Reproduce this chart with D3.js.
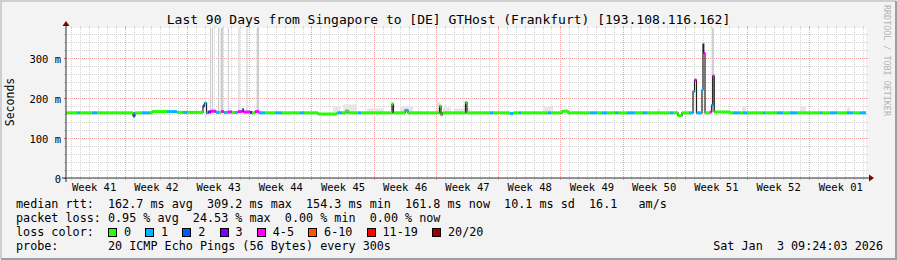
<!DOCTYPE html>
<html>
<head>
<meta charset="utf-8">
<script src="https://cdnjs.cloudflare.com/ajax/libs/d3/7.8.5/d3.min.js"></script>
<style>
html, body { margin: 0; padding: 0; background: #f3f3f3; }
svg { display: block; }
text { font-family: "DejaVu Sans Mono", monospace; }
</style>
</head>
<body>
<script>
// time window of the graph (UTC)
var startTime = new Date(Date.UTC(2025, 9, 5, 9, 24, 3));
var endTime = new Date(Date.UTC(2026, 0, 3, 9, 24, 3));

// median rtt as runs: start (days after startTime), median (ms), loss bucket (null = no band)
var runDay = [0, 1.24, 1.58, 2.93, 3.49, 7.54, 7.76, 8.55, 9.45, 9.68,
  11.36, 12.49, 13.16, 13.61, 15.41, 15.58, 15.81, 15.98, 16.31, 16.88,
  17.21, 17.44, 17.78, 18.23, 18.68, 19.01, 19.35, 19.86, 19.97, 20.7,
  20.93, 21.26, 21.71, 22.39, 23.51, 24.3, 26.33, 26.78, 28.35, 30.49,
  30.6, 31.05, 31.5, 31.73, 32.85, 33.19, 36.68, 36.84, 38.14, 38.48,
  42.02, 42.19, 42.36, 44.94, 45.11, 47.7, 48.04, 49.95, 50.29, 50.96,
  51.19, 54.23, 54.56, 55.8, 56.48, 58.95, 59.74, 60.3, 60.86, 61.76,
  62.1, 63.11, 64.01, 64.91, 65.36, 67.95, 68.29, 68.85, 69.3, 70.09,
  70.54, 70.71, 70.93, 71.55, 71.66, 71.75, 71.89, 72.45, 72.64, 72.75,
  72.93, 74.7, 75.04, 75.83, 76.16, 76.61, 78.41, 78.64, 79.99, 80.66,
  81.45, 82.24, 84.83, 85.05, 85.95, 86.74, 87.86, 88.54, 89.33];
var runMs = [163, 163, 163, 163, 163, 155, 163, 163, 163, 166,
  166, 164, 164, 164, 180, 187, 163, 165, 167, 164,
  164, 166, 164, 165, 164, 164, 166, 172, 165, 164,
  163, 166, 163, 163, 163, 163, 163, 163, 160, 163,
  163, 163, 168, 163, 163, 163, 185, 163, 169, 163,
  180, 158, 163, 189, 163, 163, 163, 161, 163, 163,
  163, 163, 163, 167, 163, 163, 163, 163, 163, 163,
  163, 163, 163, 163, 163, 163, 163, 156, 163, 163,
  216, 245, 163, 220, 335, 312, 163, 165, 182, 255,
  165, 163, 163, 163, 163, 163, 163, 163, 163, 163,
  163, 163, 163, 163, 163, 163, 163, 163, 163];
var runLoss = [0, 1, 0, 1, 0, 2, 0, 1, 0, 0,
  1, 0, 1, 0, 3, 1, 1, 3, 4, 1,
  0, 4, 1, 4, 0, 1, 4, 1, 4, 3,
  0, 4, 1, 0, 1, 0, 1, 0, 0, 0,
  1, 0, 0, 0, 1, 0, 0, 0, 1, 0,
  0, 0, 0, 0, 0, 1, 0, 1, 0, 1,
  0, 1, 0, 0, 0, 1, 0, 1, 0, 1,
  0, 1, 0, 1, 0, 1, 0, 0, 0, 1,
  1, 4, 1, 1, null, 4, 0, 4, 1, 4,
  0, 0, 1, 0, 1, 0, 1, 0, 1, 0,
  1, 0, 1, 0, 1, 0, 1, 0, 1];

// light smoke patches above the median: from day, to day, top (ms)
var smokeFrom = [30.04, 31.2, 33.86, 37.58, 41.74, 42.41, 43.6, 53.66, 66.49, 76.05, 82.58, 87.86];
var smokeTo = [30.9, 32.74, 35.66, 39.04, 42.08, 43.3, 45.45, 54.79, 66.83, 76.5, 83.25, 88.2];
var smokeTopMs = [178, 184, 174, 180, 190, 176, 174, 178, 172, 180, 178, 176];

// smoke columns running off the top of the graph: from day, to day
var tallFrom = [16.2, 16.43, 17.1, 17.4, 18.2, 19.4, 20.3, 21.45, 72.68];
var tallTo = [16.33, 16.55, 17.24, 17.68, 18.33, 19.52, 20.42, 21.72, 72.88];

var yTicks = [0, 100, 200, 300];
var lossLabels = ["0", "1", "2", "3", "4-5", "6-10", "11-19", "20/20"];
var lossColors = ["#26ff00", "#00b8ff", "#0059ff", "#7e00ff", "#ff00ff", "#ff5500", "#ff0000", "#a10000"];
var rttNames = ["avg", "max", "min", "now", "sd"];
var rttValues = ["162.7", "309.2", "154.3", "161.8", "10.1"];
var lossNames = ["avg", "max", "min", "now"];
var lossValues = ["0.95", "24.53", "0.00", "0.00"];

var W = 897, H = 260;
var plotL = 66, plotR = 866, plotT = 28, plotB = 178;
var charW = 7.07;

var svg = d3.select("body").append("svg").attr("width", W).attr("height", H);

svg.append("rect").attr("width", W).attr("height", H).attr("fill", "#f3f3f3");
svg.append("path").attr("d", "M1,259V1H896").attr("fill", "none")
  .attr("stroke", "#cfcfcf").attr("stroke-width", 2);
svg.append("path").attr("d", "M1,259H896V1").attr("fill", "none")
  .attr("stroke", "#9e9e9e").attr("stroke-width", 2);

var x = d3.scaleUtc().domain([startTime, endTime]).range([plotL, plotR]);
var y = d3.scaleLinear().domain([0, 375]).range([plotB, plotT]);
var dayToDate = function (d) { return new Date(+startTime + d * 864e5); };

svg.append("rect").attr("x", plotL).attr("y", plotT)
  .attr("width", plotR - plotL).attr("height", plotB - plotT).attr("fill", "#ffffff");

// grid
var days = d3.utcDay.range(d3.utcDay.ceil(startTime), endTime);
var grid = svg.append("g");
function vline(d, color) {
  var px = Math.round(x(d)) + 0.5;
  grid.append("line").attr("x1", px).attr("x2", px).attr("y1", plotT).attr("y2", plotB)
    .attr("stroke", color).attr("stroke-dasharray", "1,1");
  grid.append("line").attr("x1", px).attr("x2", px).attr("y1", plotT - 2).attr("y2", plotT)
    .attr("stroke", color);
  grid.append("line").attr("x1", px).attr("x2", px).attr("y1", plotB).attr("y2", plotB + 2)
    .attr("stroke", color);
}
function hline(v, color) {
  var py = Math.round(y(v)) + 0.5;
  grid.append("line").attr("x1", plotL).attr("x2", plotR).attr("y1", py).attr("y2", py)
    .attr("stroke", color).attr("stroke-dasharray", "1,1");
  grid.append("line").attr("x1", plotL - 2).attr("x2", plotL).attr("y1", py).attr("y2", py)
    .attr("stroke", color);
  grid.append("line").attr("x1", plotR).attr("x2", plotR + 2).attr("y1", py).attr("y2", py)
    .attr("stroke", color);
}
days.filter(function (d) { return d.getUTCDay() !== 0; }).forEach(function (d) { vline(d, "#d4d4d4"); });
d3.range(20, 375, 20).filter(function (v) { return v % 100 !== 0; }).forEach(function (v) { hline(v, "#d4d4d4"); });
days.filter(function (d) { return d.getUTCDay() === 0; }).forEach(function (d) { vline(d, "#f0a0a0"); });
yTicks.filter(function (v) { return v > 0; }).forEach(function (v) { hline(v, "#f0a0a0"); });

// smoke
svg.append("g").selectAll("rect").data(smokeFrom).join("rect")
  .attr("x", function (d) { return x(dayToDate(d)); })
  .attr("width", function (d, i) { return x(dayToDate(smokeTo[i])) - x(dayToDate(d)); })
  .attr("y", function (d, i) { return y(smokeTopMs[i]); })
  .attr("height", function (d, i) { return y(164) - y(smokeTopMs[i]); })
  .attr("fill", "#e6e6e6");
svg.append("g").selectAll("rect").data(tallFrom).join("rect")
  .attr("x", function (d) { return x(dayToDate(d)); })
  .attr("width", function (d, i) { return x(dayToDate(tallTo[i])) - x(dayToDate(d)); })
  .attr("y", plotT)
  .attr("height", y(165) - plotT)
  .attr("fill", "#cdcdcd");

// median line (dark step line) + loss-coloured band
var runs = runDay.map(function (d, i) {
  return {
    from: dayToDate(d),
    to: i + 1 < runDay.length ? dayToDate(runDay[i + 1]) : endTime,
    ms: runMs[i],
    loss: runLoss[i]
  };
});
var pts = runs.map(function (r) { return [x(r.from), y(r.ms)]; });
pts.push([x(endTime), y(runMs[runMs.length - 1])]);
svg.append("path")
  .attr("d", d3.line().curve(d3.curveStepAfter)(pts))
  .attr("fill", "none").attr("stroke", "#202020").attr("stroke-width", 1.2);

svg.append("g").selectAll("rect")
  .data(runs.filter(function (r) { return r.loss !== null; }))
  .join("rect")
  .attr("x", function (r) { return x(r.from); })
  .attr("width", function (r) { return x(r.to) - x(r.from); })
  .attr("y", function (r) { return y(r.ms) - 1.5; })
  .attr("height", 3)
  .attr("fill", function (r) { return lossColors[r.loss]; });

// axes labels
var yAxis = svg.append("g").attr("transform", "translate(" + plotL + ",0)")
  .call(d3.axisLeft(y).tickValues(yTicks)
    .tickFormat(function (v) { return v === 0 ? "0" : v + " m"; })
    .tickSize(2).tickPadding(3));
yAxis.select(".domain").remove();
yAxis.selectAll("line").attr("stroke", "#888");
yAxis.selectAll("text").attr("font-family", "DejaVu Sans Mono").attr("font-size", 10.5)
  .attr("dy", "0.38em").attr("fill", "#000");

var weekLabels = d3.utcSunday.range(d3.utcSunday.floor(startTime), endTime)
  .map(function (d) { return d3.utcHour.offset(d, 84); })
  .filter(function (d) { return d >= startTime && d <= endTime; });
var xAxis = svg.append("g").attr("transform", "translate(0," + plotB + ")")
  .call(d3.axisBottom(x).tickValues(weekLabels)
    .tickFormat(d3.utcFormat("Week %V")).tickSize(0).tickPadding(5.5));
xAxis.select(".domain").remove();
xAxis.selectAll("text").attr("font-family", "DejaVu Sans Mono").attr("font-size", 10.5).attr("fill", "#000");

// axis lines and arrows
svg.append("line").attr("x1", plotL).attr("x2", plotL).attr("y1", plotB + 4).attr("y2", plotT - 3)
  .attr("stroke", "#2c2c2c");
svg.append("line").attr("x1", plotL - 4).attr("x2", plotR + 4).attr("y1", plotB).attr("y2", plotB)
  .attr("stroke", "#2c2c2c");
svg.append("path").attr("d", "M" + (plotL - 3.5) + "," + (plotT - 2) + "L" + (plotL + 3.5) + "," + (plotT - 2) + "L" + plotL + "," + (plotT - 7) + "Z")
  .attr("fill", "#7f0000");
svg.append("path").attr("d", "M" + (plotR + 3) + "," + (plotB - 3.5) + "L" + (plotR + 3) + "," + (plotB + 3.5) + "L" + (plotR + 8) + "," + plotB + "Z")
  .attr("fill", "#7f0000");

// texts
svg.append("text").attr("x", 448.5).attr("y", 23.5).attr("text-anchor", "middle")
  .attr("font-size", 13).attr("fill", "#000")
  .text("Last 90 Days from Singapore to [DE] GTHost (Frankfurt) [193.108.116.162]");

svg.append("text").attr("transform", "translate(14,102) rotate(-90)").attr("text-anchor", "middle")
  .attr("font-size", 11.5).attr("fill", "#000").text("Seconds");

svg.append("text").attr("transform", "translate(884,5) rotate(90)")
  .attr("font-size", 8.4).attr("fill", "#b4b4b4").text("RRDTOOL / TOBI OETIKER");

var rttLine = "median rtt:  " + rttValues.map(function (v, i) {
  return v + " ms " + rttNames[i];
}).join("  ") + "  16.1   am/s";
var lossLine = "packet loss: " + lossValues.map(function (v, i) {
  return v + " % " + lossNames[i];
}).join("  ");
var legendLines = [rttLine, lossLine, "loss color:", "probe:       20 ICMP Echo Pings (56 Bytes) every 300s"];
svg.append("g").selectAll("text").data(legendLines).join("text")
  .attr("x", 16).attr("y", function (d, i) { return 208.3 + i * 14; })
  .attr("font-size", 11.75).attr("fill", "#000").style("white-space", "pre")
  .text(function (d) { return d; });

svg.append("text").attr("x", 883).attr("y", 250.3)
  .attr("text-anchor", "end").attr("font-size", 11.75).attr("fill", "#000").style("white-space", "pre")
  .text("Sat Jan  3 09:24:03 2026");

// loss colour legend boxes
var bx = 16 + 13 * charW;
var boxes = lossLabels.map(function (l, i) {
  var b = { x: bx, label: l, color: lossColors[i] };
  bx = bx + 16 + l.length * charW + 2 * charW;
  return b;
});
var lg = svg.append("g");
lg.selectAll("rect").data(boxes).join("rect")
  .attr("x", function (d) { return Math.round(d.x) + 0.5; }).attr("y", 228.5)
  .attr("width", 8).attr("height", 8)
  .attr("fill", function (d) { return d.color; }).attr("stroke", "#000");
lg.selectAll("text").data(boxes).join("text")
  .attr("x", function (d) { return d.x + 16; }).attr("y", 236.3)
  .attr("font-size", 11.75).attr("fill", "#000")
  .text(function (d) { return d.label; });
</script>
</body>
</html>
